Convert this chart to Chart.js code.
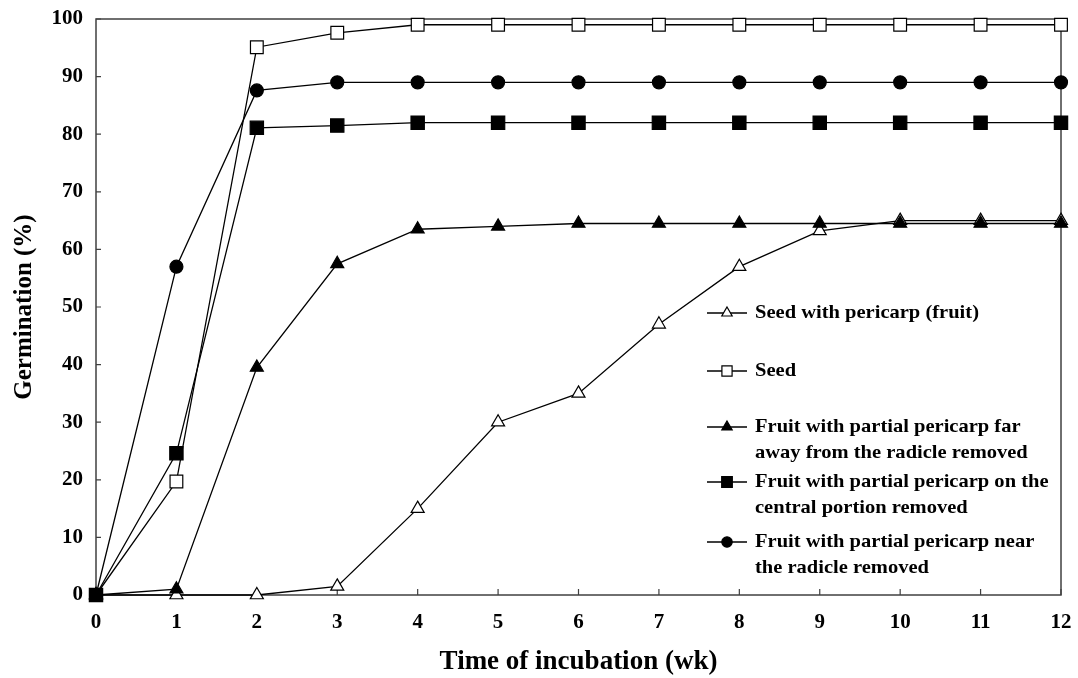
<!DOCTYPE html>
<html>
<head>
<meta charset="utf-8">
<script src="https://cdn.jsdelivr.net/npm/chart.js@4"></script>
<style>
  html, body { margin: 0; padding: 0; background: #fff; }
  #wrap { width: 1078px; height: 678px; position: relative; }
</style>
</head>
<body>
<div id="wrap"><canvas id="c"></canvas></div>
<script>
// ---- data ----
const weeks = [0, 1, 2, 3, 4, 5, 6, 7, 8, 9, 10, 11, 12];
const seedWithPericarp = [0, 0, 0, 1.5, 15, 30, 35, 47, 57, 63.2, 65, 65, 65];
const seedOnly        = [0, 19.7, 95.1, 97.6, 99, 99, 99, 99, 99, 99, 99, 99, 99];
const farFromRadicle  = [0, 1, 39.5, 57.5, 63.5, 64, 64.5, 64.5, 64.5, 64.5, 64.5, 64.5, 64.5];
const centralPortion  = [0, 24.6, 81.1, 81.5, 82, 82, 82, 82, 82, 82, 82, 82, 82];
const nearRadicle     = [0, 57, 87.6, 89, 89, 89, 89, 89, 89, 89, 89, 89, 89];
const seriesLabels = [
  ["Seed with pericarp (fruit)"],
  ["Seed"],
  ["Fruit with partial pericarp far", "away from the radicle removed"],
  ["Fruit with partial pericarp on the", "central portion removed"],
  ["Fruit with partial pericarp near", "the radicle removed"]
];
const yTicks = [0, 10, 20, 30, 40, 50, 60, 70, 80, 90, 100];
const xTicks = weeks;
const yTitle = "Germination (%)";
const xTitle = "Time of incubation (wk)";

const FONT = "'Liberation Serif', 'Times New Roman', serif";
const toXY = arr => arr.map((v, i) => ({ x: weeks[i], y: v }));

function ds(label, values, style, radius, fill, order) {
  return {
    label: label.join(' '),
    data: toXY(values),
    borderColor: '#000',
    borderWidth: 1.3,
    pointStyle: style,
    pointRadius: radius,
    pointHoverRadius: radius,
    pointBackgroundColor: fill,
    pointBorderColor: '#000',
    pointBorderWidth: 1.2,
    tension: 0,
    fill: false,
    clip: false,
    order: order
  };
}

const datasets = [
  ds(seriesLabels[0], seedWithPericarp, 'triangle', 7.5, '#fff', 5),
  ds(seriesLabels[1], seedOnly, 'rect', 9, '#fff', 4),
  ds(seriesLabels[2], farFromRadicle, 'triangle', 7.5, '#000', 3),
  ds(seriesLabels[3], centralPortion, 'rect', 9.4, '#000', 1),
  ds(seriesLabels[4], nearRadicle, 'circle', 6.5, '#000', 2)
];

const legendRows = [313, 371, 427, 482, 542];

const framePlugin = {
  id: 'frame',
  beforeDatasetsDraw(chart) {
    const { ctx, chartArea: a, scales } = chart;
    ctx.save();
    ctx.strokeStyle = '#404040';
    ctx.lineWidth = 1.5;
    ctx.strokeRect(a.left, a.top, a.right - a.left, a.bottom - a.top);
    ctx.lineWidth = 1.2;
    ctx.beginPath();
    xTicks.forEach(v => {
      const px = scales.x.getPixelForValue(v);
      ctx.moveTo(px, a.bottom);
      ctx.lineTo(px, a.bottom - 6);
    });
    yTicks.forEach(v => {
      const py = scales.y.getPixelForValue(v);
      ctx.moveTo(a.left, py);
      ctx.lineTo(a.left + 5, py);
    });
    ctx.stroke();
    ctx.restore();
  },
  afterDatasetsDraw(chart) {
    const { ctx } = chart;
    ctx.save();
    const lx0 = 707, lx1 = 747, mx = 727, tx = 755;
    chart.data.datasets.forEach((d, i) => {
      const y = legendRows[i];
      ctx.strokeStyle = '#000';
      ctx.lineWidth = 1.3;
      ctx.beginPath();
      ctx.moveTo(lx0, y); ctx.lineTo(lx1, y); ctx.stroke();
      ctx.fillStyle = d.pointBackgroundColor;
      ctx.strokeStyle = '#000';
      ctx.lineWidth = 1.2;
      Chart.helpers.drawPoint(ctx, { pointStyle: d.pointStyle, rotation: 0, borderWidth: 1.2, radius: d.pointRadius * 0.8 }, mx, y);
      ctx.fillStyle = '#000';
      ctx.font = "bold 19px " + FONT;
      ctx.textBaseline = 'middle';
      ctx.textAlign = 'left';
      seriesLabels[i].forEach((line, k) => {
        ctx.save();
        ctx.translate(tx, y + k * 26);
        ctx.scale(1.08, 1);
        ctx.fillText(line, 0, 0);
        ctx.restore();
      });
    });
    ctx.restore();
  }
};

new Chart(document.getElementById('c'), {
  type: 'line',
  data: { datasets },
  options: {
    responsive: true,
    maintainAspectRatio: false,
    animation: false,
    layout: { padding: { left: 0, right: 17, top: 19, bottom: 0 } },
    plugins: { legend: { display: false }, tooltip: { enabled: false } },
    scales: {
      x: {
        type: 'linear',
        min: 0, max: 12,
        afterBuildTicks: s => { s.ticks = xTicks.map(v => ({ value: v })); },
        grid: { display: false, drawTicks: false },
        border: { display: false },
        ticks: { color: '#000', font: { family: FONT, size: 21, weight: 'bold' }, padding: 15, maxRotation: 0, autoSkip: false },
        title: { display: true, text: xTitle, color: '#000', font: { family: FONT, size: 27, weight: 'bold' }, padding: { top: 0, bottom: 0 } },
        afterFit: s => { s.height = 83; s.paddingLeft = 0; s.paddingRight = 0; }
      },
      y: {
        type: 'linear',
        min: 0, max: 100,
        afterBuildTicks: s => { s.ticks = yTicks.map(v => ({ value: v })); },
        grid: { display: false, drawTicks: false },
        border: { display: false },
        ticks: { color: '#000', font: { family: FONT, size: 21, weight: 'bold' }, padding: 13 },
        title: { display: true, text: yTitle, color: '#000', font: { family: FONT, size: 25, weight: 'bold' }, padding: { top: 10, bottom: 0 } },
        afterFit: s => { s.width = 96; s.paddingTop = 0; s.paddingBottom = 0; }
      }
    }
  },
  plugins: [framePlugin]
});
</script>
</body>
</html>
